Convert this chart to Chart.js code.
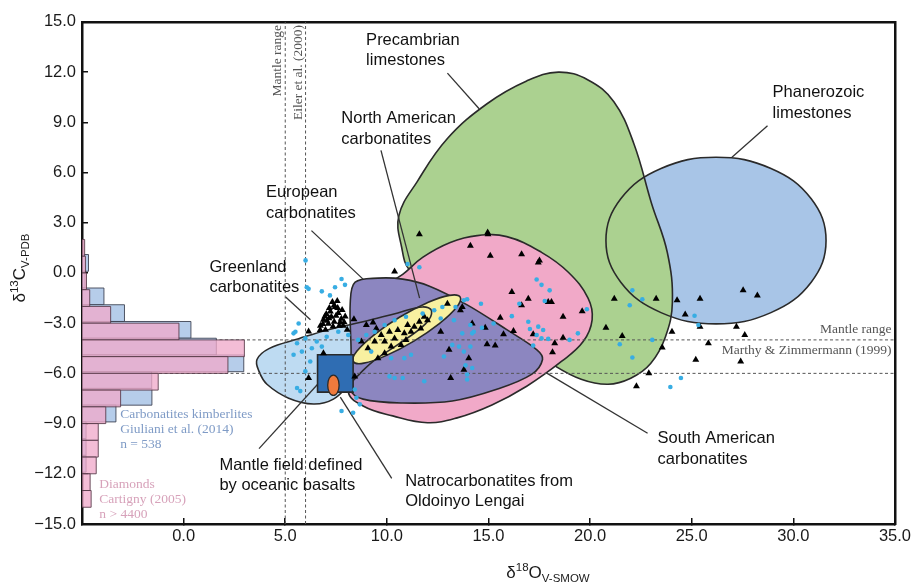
<!DOCTYPE html>
<html>
<head>
<meta charset="utf-8">
<script src="https://cdn.jsdelivr.net/npm/chart.js@4.4.1/dist/chart.umd.min.js"></script>
<style>
  html, body { margin: 0; padding: 0; background: #ffffff; }
  #c { display: block; }
</style>
</head>
<body>
<canvas id="c" width="920" height="582"></canvas>
<script>
// ---- axes -------------------------------------------------------------
const xRange = [-5, 35];        // δ18O, ‰ V-SMOW
const yRange = [-15, 15];       // δ13C, ‰ V-PDB
const xTickStep = 5;
const yTickStep = 3;

// ---- mantle reference ranges -----------------------------------------
const eilerMantleO = [5.0, 6.0];           // Eiler et al. (2000)
const marthyMantleC = [-4.0, -6.0];        // Marthy & Zimmermann (1999)

// ---- field outlines [δ18O, δ13C] --------------------------------------
const phanerozoicLimestones = [[31.61,1.94],[30.88,4.43],[28.90,6.24],[26.20,6.91],[23.49,6.24],[21.51,4.43],
  [20.78,1.94],[21.51,-0.55],[23.49,-2.37],[26.20,-3.04],[28.90,-2.37],[30.88,-0.55]];
const precambrianLimestones = [[10.59,3.42],[11.51,5.49],[12.98,8.03],[14.93,10.11],[16.88,11.47],[18.44,12.00],
  [19.90,11.53],[21.17,10.23],[22.15,7.74],[23.02,4.17],[23.80,1.22],[24.05,-1.74],[23.71,-3.81],[22.98,-5.41],
  [22.00,-6.29],[20.88,-6.65],[19.56,-6.35],[18.15,-5.46],[15.41,-3.21],[12.49,-1.14],[11.12,0.16],[10.73,1.52]];
const southAmerican = [[10.78,-0.08],[11.76,0.93],[13.12,1.82],[14.44,2.23],[15.90,2.17],[17.61,1.23],[18.93,0.04],
  [19.90,-1.50],[20.10,-2.80],[19.66,-4.10],[18.59,-5.29],[16.88,-6.77],[15.17,-7.89],[13.46,-8.66],[12.00,-8.95],
  [10.29,-8.54],[8.83,-7.95],[8.10,-7.06],[8.49,-3.51],[9.46,-1.14]];
const greenland = [[3.61,-5.17],[4.20,-4.52],[5.66,-3.93],[7.12,-3.39],[8.83,-2.92],[10.54,-2.39],[11.76,-2.03],
  [12.20,-2.27],[11.90,-3.04],[10.54,-4.28],[9.32,-5.29],[8.20,-6.59],[7.37,-7.54],[6.39,-7.83],[5.17,-7.48],
  [4.10,-6.65],[3.71,-5.88]];
const european = [[8.44,-0.55],[9.56,-0.31],[10.78,-0.37],[12.10,-0.79],[13.95,-1.91],[15.90,-3.39],[17.37,-4.58],
  [17.66,-5.17],[17.12,-6.06],[15.41,-6.95],[13.22,-7.65],[10.78,-7.77],[8.83,-7.54],[8.20,-6.94],[8.24,-4.69],
  [8.20,-1.74]];
const northAmerican = [[13.61,-1.44],[13.43,-2.05],[12.60,-3.01],[11.33,-4.07],[9.96,-4.94],[8.87,-5.39],[8.34,-5.29],
  [8.52,-4.68],[9.36,-3.71],[10.62,-2.65],[11.99,-1.78],[13.08,-1.34]];
const oceanicBasaltMantle = [[6.59,-4.89],[8.34,-4.89],[8.34,-7.12],[6.59,-7.12]];
const oldoinyoLengai = [[7.65,-6.71],[7.57,-6.28],[7.37,-6.10],[7.17,-6.28],[7.09,-6.71],[7.17,-7.14],[7.37,-7.32],[7.57,-7.14]];

// ---- individual analyses [δ18O, δ13C] ---------------------------------
const carbonatiteSamples = [[14.98,2.31],[14.11,1.62],[15.09,1.03],[16.63,1.12],[17.45,0.63],[17.51,0.75],[16.15,-1.14],
  [16.96,-1.54],[16.63,-1.93],[17.94,-1.73],[18.10,-1.73],[15.58,-2.68],[14.20,-3.02],[14.84,-3.27],[16.23,-3.47],
  [18.67,-2.62],[19.61,-2.29],[17.20,-3.67],[15.74,-3.67],[18.67,-3.87],[18.26,-4.20],[14.93,-4.26],[15.33,-4.34],
  [18.15,-4.74],[13.79,-5.78],[13.71,-2.03],[21.19,-1.54],[23.25,-1.54],[20.78,-3.27],[21.58,-3.76],[23.55,-4.46],
  [22.89,-6.00],[22.28,-6.77],[24.28,-1.63],[25.41,-1.54],[24.68,-2.49],[25.41,-3.21],[24.03,-3.51],[25.20,-5.19],
  [25.82,-4.20],[27.53,-1.04],[28.23,-1.34],[27.20,-3.21],[27.61,-3.71],[27.41,-5.29],[11.60,2.31],[10.38,0.08],
  [14.96,2.41],[6.15,-3.50],[6.72,-3.41],[8.38,-2.76],[8.99,-3.11],[9.32,-2.96],[9.48,-3.32],[6.88,-4.80],
  [6.15,-6.28],[8.42,-6.18],
  [8.75,-4.10],[9.07,-4.50],[9.40,-4.10],[9.72,-3.71],[9.89,-4.10],[10.13,-3.51],[10.38,-3.91],[10.54,-3.41],
  [10.86,-3.61],[11.02,-3.11],[11.19,-3.51],[11.35,-3.21],[11.60,-2.92],[11.84,-2.62],[12.00,-2.82],[9.89,-4.80],
  [9.56,-5.09],[10.21,-4.40],[10.70,-4.30],[10.94,-4.00],[11.67,-3.32],
  [12.98,-1.84],[13.62,-2.23],[12.65,-3.51],[13.06,-4.59],[13.14,-6.28],[14.03,-5.09],
  [6.88,-2.80],[7.02,-2.45],[7.17,-2.09],[7.32,-1.74],[7.46,-2.03],[7.61,-2.39],[7.76,-2.74],[7.12,-3.04],
  [7.41,-2.92],[7.66,-3.16],[7.90,-2.94],[6.73,-3.16],[7.27,-2.62],[7.56,-1.68],[7.80,-2.21],[6.98,-3.39],[8.05,-3.39],
  [7.22,-2.30],[7.40,-1.95],[7.50,-2.55],[7.05,-2.85],[7.35,-3.20],[7.70,-2.95],[7.95,-2.60],[6.85,-3.05],
  [7.58,-2.10],[7.15,-2.70],[7.85,-3.15],[6.95,-2.60]];
const kimberliteSamples = [[17.37,-0.39],[17.61,-0.71],[18.01,-1.04],[17.77,-1.68],[13.95,-1.57],[14.63,-1.84],
  [16.52,-1.84],[16.15,-2.58],[16.96,-2.92],[17.45,-3.21],[17.04,-3.35],[17.69,-3.41],[14.68,-3.27],[15.25,-3.02],
  [17.37,-3.71],[17.61,-3.91],[17.94,-3.94],[18.99,-4.00],[19.40,-3.61],[19.84,-2.17],[14.20,-3.61],[13.71,-3.61],
  [17.20,-4.34],[13.79,-4.70],[13.87,-5.52],[13.95,-6.37],[22.08,-1.04],[22.57,-1.57],[21.95,-1.93],[23.06,-4.00],
  [21.46,-4.26],[22.08,-5.05],[24.47,-6.28],[23.95,-6.81],[25.14,-2.56],[25.33,-3.11],
  [7.77,-0.36],[7.94,-0.71],[6.06,-0.85],[6.80,-1.10],[7.20,-1.34],[7.45,-0.85],[11.02,0.53],[11.60,0.34],
  [13.79,-1.63],[13.38,-2.03],[12.73,-2.03],[12.33,-2.23],[11.76,-2.43],[10.94,-2.62],[10.38,-2.82],[9.89,-3.11],
  [9.40,-3.51],[8.99,-3.71],[8.59,-4.00],[8.10,-3.71],[7.61,-3.51],[7.04,-3.81],[6.55,-4.10],[6.31,-4.50],
  [6.80,-4.40],[5.99,-3.91],[5.66,-3.02],[5.50,-3.51],[5.58,-4.20],[5.41,-4.89],[5.82,-4.70],[6.23,-5.29],
  [5.99,-5.88],[5.74,-7.06],[5.58,-6.87],[8.42,-6.96],[8.50,-7.46],[8.67,-7.85],[7.77,-8.25],[8.34,-8.35],
  [9.23,-4.70],[10.21,-5.09],[10.86,-5.09],[11.19,-4.89],[10.13,-6.18],[10.38,-6.28],[10.78,-6.28],[12.65,-2.72],
  [13.30,-2.82],[13.22,-4.30],[13.55,-4.40],[14.11,-3.11],[14.28,-3.51],[14.11,-4.40],[12.81,-4.99],[11.84,-6.47],
  [13.95,-6.07],[14.20,-5.68],[5.41,-3.61],[6.15,-0.95],[6.00,0.75]];

// ---- δ13C frequency histograms (bar length in δ18O-axis units) --------
const histogramBinWidth = 1;
const kimberliteBinLow  = [0.1, -0.9, -1.9, -2.9, -3.9, -4.9, -5.9, -6.9, -7.9, -8.9, -9.9, -10.9, -11.9];
const kimberliteCounts  = [0.32, 0.15, 1.08, 2.09, 5.36, 6.61, 7.96, 3.43, 3.44, 1.67, 0.2, 0.2, 0.2];
const diamondBinLow     = [1, 0, -1, -2, -3, -4, -5, -6, -7, -8, -9, -10, -11, -12, -13, -14];
const diamondCounts     = [0.13, 0.17, 0.22, 0.38, 1.41, 4.77, 7.99, 7.18, 3.75, 1.9, 1.17, 0.8, 0.8, 0.7, 0.4, 0.45];

// ---- label leader lines [from, to] ------------------------------------
const leaderLines = [
  [[12.98,11.94],[14.54,9.81]],   // Precambrian limestones
  [[9.71,7.32],[11.61,-1.50]],    // North American carbonatites
  [[6.29,2.53],[8.83,-0.37]],     // European carbonatites
  [[5.02,-1.44],[6.24,-2.80]],    // Greenland carbonatites
  [[28.73,8.80],[26.98,6.91]],    // Phanerozoic limestones
  [[3.71,-10.50],[6.73,-6.47]],   // mantle field
  [[7.71,-7.42],[10.24,-12.27]],  // natrocarbonatites
  [[17.85,-5.97],[22.83,-9.58]]   // South American carbonatites
];

// ---- styling ----------------------------------------------------------
const SANS = "'Liberation Sans', Arial, Helvetica, sans-serif";
const SERIF = "'Liberation Serif', 'Times New Roman', Times, serif";
const OUTLINE = '#2a2a2a';

const fieldLabels = [
  { lines: ['Precambrian', 'limestones'], at: [8.98, 13.90] },
  { lines: ['North American', 'carbonatites'], at: [7.76, 9.22] },
  { lines: ['European', 'carbonatites'], at: [4.05, 4.78] },
  { lines: ['Greenland', 'carbonatites'], at: [1.27, 0.34] },
  { lines: ['Phanerozoic', 'limestones'], at: [28.98, 10.76] },
  { lines: ['Mantle field defined', 'by oceanic basalts'], at: [1.76, -11.50] },
  { lines: ['Natrocarbonatites from', 'Oldoinyo Lengai'], at: [10.9, -12.45] },
  { lines: ['South American', 'carbonatites'], at: [23.32, -9.91] }
];
const histogramNotes = [
  { lines: ['Carbonatites kimberlites', 'Giuliani et al. (2014)', 'n = 538'], at: [-3.12, -8.43], color: '#7f9bc6' },
  { lines: ['Diamonds', 'Cartigny (2005)', 'n > 4400'], at: [-4.15, -12.63], color: '#d7a2ba' }
];

const toXY = pts => pts.map(([x, y]) => ({ x, y }));

function field(label, pts, opts) {
  return Object.assign({
    label, closed: true, data: toXY(pts), pointRadius: 0,
    fill: false, borderWidth: 0, tension: 0.4
  }, opts);
}
function segment(label, a, b, opts) {
  return Object.assign({
    label, data: toXY([a, b]), pointRadius: 0, fill: false,
    borderColor: '#333', borderWidth: 1.3, tension: 0
  }, opts);
}
function histogramBars(label, lows, counts, fillColor, edgeColor) {
  return lows.map((lo, i) => field(label, [
    [xRange[0], lo], [xRange[0] + counts[i], lo],
    [xRange[0] + counts[i], lo + histogramBinWidth], [xRange[0], lo + histogramBinWidth]
  ], { tension: 0, fill: 'shape', backgroundColor: fillColor, borderColor: edgeColor, borderWidth: 1 }));
}

// datasets listed back to front
const datasets = [
  field('Phanerozoic limestones', phanerozoicLimestones, { fill: 'shape', backgroundColor: '#a8c5e7' }),
  field('Precambrian limestones', precambrianLimestones, { fill: 'shape', backgroundColor: '#abd190', borderColor: OUTLINE, borderWidth: 1.6 }),
  field('Phanerozoic outline', phanerozoicLimestones, { borderColor: OUTLINE, borderWidth: 1.6 }),
  field('South American carbonatites', southAmerican, { fill: 'shape', backgroundColor: '#f1a9c8', borderColor: OUTLINE, borderWidth: 1.6 }),
  field('Greenland carbonatites', greenland, { fill: 'shape', backgroundColor: '#bedbf2' }),
  field('European carbonatites', european, { fill: 'shape', backgroundColor: '#8c86c0', borderColor: OUTLINE, borderWidth: 1.6, tension: 0.35 }),
  field('North American carbonatites', northAmerican, { fill: 'shape', backgroundColor: '#f8f0a0', borderColor: OUTLINE, borderWidth: 1.6 }),
  field('Greenland outline', greenland, { borderColor: OUTLINE, borderWidth: 1.6 }),
  ...eilerMantleO.map(v => segment('Eiler mantle range', [v, yRange[0]], [v, yRange[1]],
      { borderColor: '#555', borderWidth: 1, borderDash: [3, 2.5] })),
  ...marthyMantleC.map(v => segment('Marthy mantle range', [xRange[0], v], [xRange[1], v],
      { borderColor: '#555', borderWidth: 1, borderDash: [3, 2.5] })),
  ...leaderLines.map(([a, b]) => segment('leader', a, b)),
  field('Mantle field defined by oceanic basalts', oceanicBasaltMantle, { tension: 0, fill: 'shape', backgroundColor: '#2f6db3', borderColor: OUTLINE, borderWidth: 1.6 }),
  field('Natrocarbonatites from Oldoinyo Lengai', oldoinyoLengai, { fill: 'shape', backgroundColor: '#ef7a3c', borderColor: OUTLINE, borderWidth: 1.3 }),
  ...histogramBars('Carbonatites kimberlites', kimberliteBinLow, kimberliteCounts, '#b6cdea', 'rgba(55,60,75,0.85)'),
  ...histogramBars('Diamonds', diamondBinLow, diamondCounts, 'rgba(240,170,203,0.78)', 'rgba(85,55,70,0.85)'),
  { label: 'carbonatites', data: toXY(carbonatiteSamples), showLine: false, fill: false,
    pointStyle: 'triangle', pointRadius: 4, pointBackgroundColor: '#000', pointBorderWidth: 0 },
  { label: 'carbonatites kimberlites', data: toXY(kimberliteSamples), showLine: false, fill: false,
    pointStyle: 'circle', pointRadius: 2.3, pointBackgroundColor: '#38ade3', pointBorderWidth: 0 }
];
datasets.forEach((d, i) => { d.order = datasets.length - i; });

// closed outlines: make the line element wrap around to its first point
const closedPaths = {
  id: 'closedPaths',
  afterDatasetUpdate(chart, args) {
    const ds = chart.data.datasets[args.index];
    const line = args.meta.dataset;
    if (ds.closed && line) { line._loop = true; line._fullLoop = true; }
  }
};

function drawRich(ctx, parts, x0, baseline) {
  let total = 0;
  parts.forEach(p => { ctx.font = p.size + 'px ' + SANS; p.w = ctx.measureText(p.text).width; total += p.w; });
  let x = x0 - total / 2;
  ctx.textAlign = 'left';
  ctx.textBaseline = 'alphabetic';
  parts.forEach(p => { ctx.font = p.size + 'px ' + SANS; ctx.fillText(p.text, x, baseline + (p.dy || 0)); x += p.w; });
}

const chartText = {
  id: 'chartText',
  afterDatasetsDraw(chart) {
    const { ctx, chartArea } = chart;
    const sx = chart.scales.x, sy = chart.scales.y;
    ctx.save();
    // field labels
    ctx.fillStyle = '#111';
    ctx.font = '16.5px ' + SANS;
    ctx.textAlign = 'left';
    ctx.textBaseline = 'middle';
    fieldLabels.forEach(l => {
      const px = sx.getPixelForValue(l.at[0]), py = sy.getPixelForValue(l.at[1]);
      l.lines.forEach((t, i) => ctx.fillText(t, px, py + i * 20.5));
    });
    // histogram notes
    ctx.font = '13.5px ' + SERIF;
    histogramNotes.forEach(n => {
      ctx.fillStyle = n.color;
      const px = sx.getPixelForValue(n.at[0]), py = sy.getPixelForValue(n.at[1]);
      n.lines.forEach((t, i) => ctx.fillText(t, px, py + i * 15));
    });
    // mantle range captions
    ctx.fillStyle = '#555';
    ctx.textAlign = 'right';
    const rx = sx.getPixelForValue(34.83);
    ctx.fillText('Mantle range', rx, sy.getPixelForValue(-3.39));
    ctx.fillText('Marthy & Zimmermann (1999)', rx, sy.getPixelForValue(-4.64));
    ctx.textBaseline = 'alphabetic';
    [['Mantle range', 4.59], ['Eiler et al. (2000)', 5.61]].forEach(([t, xv]) => {
      ctx.save();
      ctx.translate(sx.getPixelForValue(xv) + 4.5, chartArea.top + 3);
      ctx.rotate(-Math.PI / 2);
      ctx.fillText(t, 0, 0);
      ctx.restore();
    });
    // axis titles
    ctx.fillStyle = '#1a1a1a';
    drawRich(ctx, [
      { text: 'δ', size: 17 }, { text: '18', size: 11.5, dy: -7 }, { text: 'O', size: 17 },
      { text: 'V-SMOW', size: 11.5, dy: 3.5 }
    ], 548, 578);
    ctx.save();
    ctx.translate(25, 268);
    ctx.rotate(-Math.PI / 2);
    drawRich(ctx, [
      { text: 'δ', size: 17 }, { text: '13', size: 11.5, dy: -7 }, { text: 'C', size: 17 },
      { text: 'V-PDB', size: 11.5, dy: 3.5 }
    ], 0, 0);
    ctx.restore();
    ctx.restore();
  }
};

const frame = { display: true, color: '#111', width: 2.5 };
const fmt = v => (v < 0 ? '\u2212' : '') + Math.abs(v).toFixed(1);

new Chart(document.getElementById('c'), {
  type: 'line',
  data: { datasets },
  options: {
    responsive: false,
    animation: false,
    events: [],
    devicePixelRatio: 1,
    layout: { padding: { top: 17, right: 18, left: 0, bottom: 0 } },
    plugins: { legend: { display: false }, tooltip: { enabled: false } },
    scales: {
      x: {
        type: 'linear', position: 'bottom', min: xRange[0], max: xRange[1],
        afterFit: s => { s.height = 58; },
        ticks: { stepSize: xTickStep, autoSkip: false, maxRotation: 0, padding: 9,
          callback: v => (v < 0 ? '' : fmt(v)), color: '#1a1a1a', font: { family: SANS, size: 16.5 } },
        grid: { drawOnChartArea: false, drawTicks: true, tickLength: -6, color: '#111', lineWidth: 1.5 },
        border: frame
      },
      y: {
        type: 'linear', position: 'left', min: yRange[0], max: yRange[1],
        afterFit: s => { s.width = 82; },
        ticks: { stepSize: yTickStep, autoSkip: false, padding: 12,
          callback: v => fmt(v), color: '#1a1a1a', font: { family: SANS, size: 16.5 } },
        grid: { drawOnChartArea: false, drawTicks: true, tickLength: -6, color: '#111', lineWidth: 1.5 },
        border: frame
      },
      xTop: {
        type: 'linear', position: 'top', min: xRange[0], max: xRange[1],
        afterFit: s => { s.height = 0; },
        ticks: { display: false }, grid: { display: false, drawTicks: false }, border: frame
      },
      yRight: {
        type: 'linear', position: 'right', min: yRange[0], max: yRange[1],
        afterFit: s => { s.width = 0; },
        ticks: { display: false }, grid: { display: false, drawTicks: false }, border: frame
      }
    }
  },
  plugins: [closedPaths, chartText]
});
</script>
</body>
</html>
